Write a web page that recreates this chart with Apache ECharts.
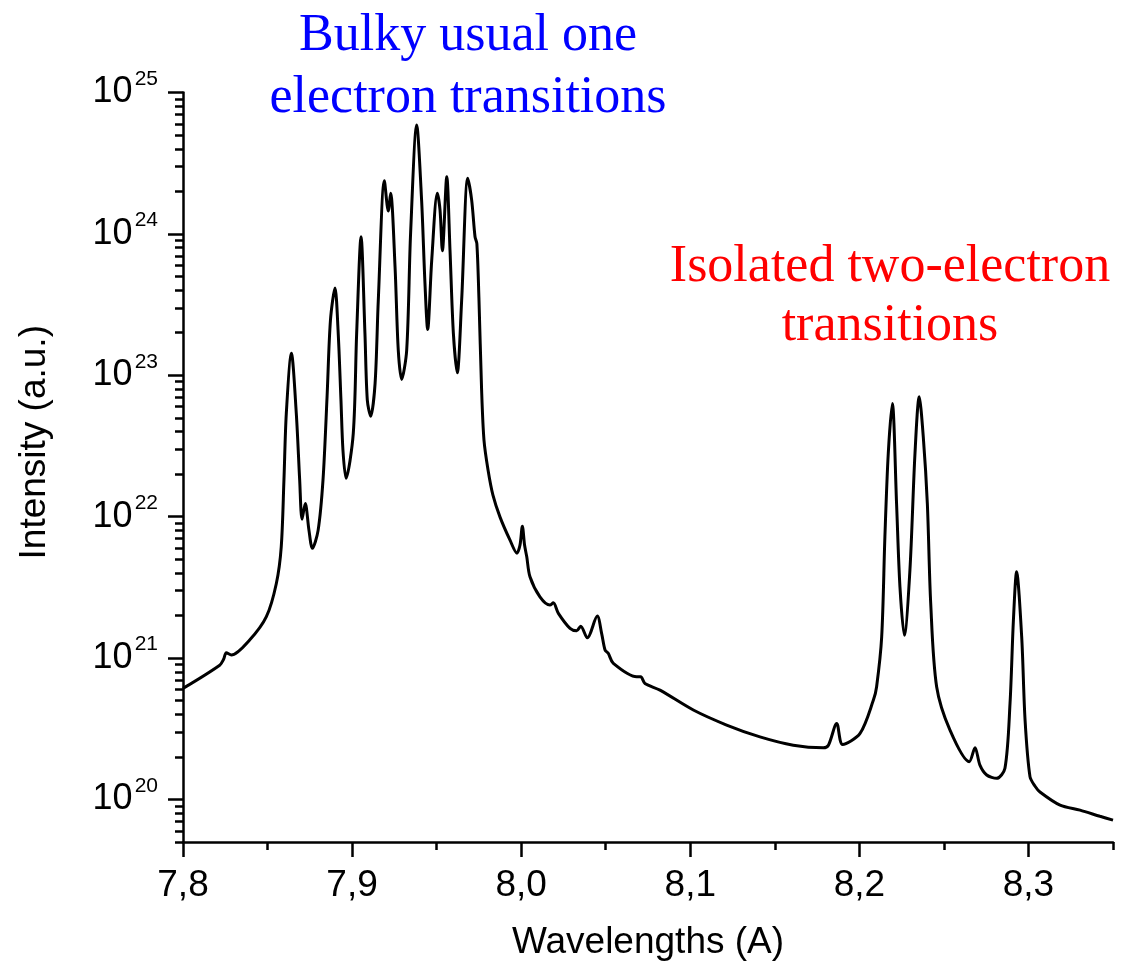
<!DOCTYPE html>
<html><head><meta charset="utf-8">
<script src="https://cdn.jsdelivr.net/npm/echarts@6/dist/echarts.min.js"></script>
<style>html,body{margin:0;padding:0;background:#fff}#c{width:1121px;height:971px}</style>
</head><body><div id="c"></div>
<script>
const wavelengths = [
  7.8000, 7.8217, 7.8240, 7.8256, 7.8286, 7.8394, 7.8493, 7.8552, 7.8581, 7.8597,
  7.8611, 7.8641, 7.8670, 7.8690, 7.8704, 7.8723, 7.8745, 7.8765, 7.8799, 7.8828,
  7.8852, 7.8872, 7.8899, 7.8917, 7.8934, 7.8946, 7.8964, 7.9007, 7.9027, 7.9053,
  7.9076, 7.9090, 7.9110, 7.9136, 7.9155, 7.9191, 7.9214, 7.9228, 7.9254, 7.9273,
  7.9293, 7.9323, 7.9346, 7.9382, 7.9411, 7.9431, 7.9447, 7.9471, 7.9504, 7.9520,
  7.9534, 7.9560, 7.9579, 7.9599, 7.9622, 7.9648, 7.9684, 7.9707, 7.9727, 7.9738,
  7.9750, 7.9766, 7.9780, 7.9804, 7.9833, 7.9875, 7.9934, 7.9975, 7.9993, 8.0007,
  8.0020, 8.0033, 8.0052, 8.0111, 8.0170, 8.0190, 8.0220, 8.0289, 8.0328, 8.0352,
  8.0391, 8.0450, 8.0476, 8.0496, 8.0515, 8.0545, 8.0683, 8.0707, 8.0732, 8.0821,
  8.1018, 8.1215, 8.1412, 8.1609, 8.1787, 8.1817, 8.1866, 8.1901, 8.2004, 8.2083,
  8.2102, 8.2132, 8.2151, 8.2171, 8.2195, 8.2220, 8.2240, 8.2266, 8.2299, 8.2329,
  8.2354, 8.2378, 8.2402, 8.2422, 8.2457, 8.2536, 8.2650, 8.2684, 8.2713, 8.2753,
  8.2812, 8.2861, 8.2891, 8.2911, 8.2930, 8.2960, 8.2980, 8.3009, 8.3039, 8.3068,
  8.3187, 8.3305, 8.3423, 8.3500
];
const intensities = [
  6.1e20, 8.9e20, 9.8e20, 1.09e21, 1.05e21, 1.34e21, 1.96e21, 3.37e21, 6.12e21, 1.82e22,
  5.38e22, 1.43e23, 5.38e22, 1.82e22, 9.6e21, 1.24e22, 8.0e21, 5.97e21, 8.0e21, 1.82e22,
  7.05e22, 2.45e23, 4.14e23, 2.09e23, 6.76e22, 2.95e22, 1.87e22, 3.88e22, 1.98e23, 9.55e23,
  1.98e23, 6.68e22, 5.14e22, 8.77e22, 3.40e23, 2.38e24, 1.45e24, 1.94e24, 5.86e23, 1.51e23,
  9.35e22, 1.51e23, 1.01e24, 5.89e24, 1.74e24, 4.47e23, 2.11e23, 6.53e23, 1.94e24, 1.48e24,
  7.60e23, 2.54e24, 7.69e23, 1.98e23, 1.04e23, 3.40e23, 2.47e24, 1.74e24, 9.55e23, 8.5e23,
  3.55e23, 7.85e22, 3.48e22, 2.14e22, 1.42e22, 9.93e21, 6.82e21, 5.52e21, 6.3e21, 8.57e21,
  6.3e21, 5.2e21, 3.76e21, 2.71e21, 2.37e21, 2.46e21, 2.07e21, 1.62e21, 1.56e21, 1.68e21,
  1.39e21, 1.98e21, 1.49e21, 1.14e21, 1.08e21, 9.16e20, 7.36e20, 7.36e20, 6.61e20, 5.93e20,
  4.29e20, 3.36e20, 2.77e20, 2.42e20, 2.32e20, 2.42e20, 3.45e20, 2.45e20, 2.93e20, 5.04e20,
  6.27e20, 1.41e21, 7.21e21, 2.81e22, 6.32e22, 1.24e22, 3.19e21, 1.45e21, 4.19e21, 2.81e22,
  7.05e22, 3.67e22, 1.24e22, 2.43e21, 6.27e20, 3.09e20, 1.85e20, 2.32e20, 1.75e20, 1.49e20,
  1.41e20, 1.66e20, 4.78e20, 1.85e21, 4.07e21, 1.41e21, 3.64e20, 1.45e20, 1.24e20, 1.13e20,
  9.12e19, 8.4e19, 7.6e19, 7.14e19
];
const xMajorTicks = [7.8, 7.9, 8.0, 8.1, 8.2, 8.3];
const xMinorTicks = [7.85, 7.95, 8.05, 8.15, 8.25, 8.35];
const yDecadeTicks = [1e20, 1e21, 1e22, 1e23, 1e24, 1e25];
const yMinorMultipliers = [2, 3, 4, 5, 6, 7, 8, 9];
const xRange = [7.8, 8.35];
const yRange = [5e19, 1e25];
const xTitle = 'Wavelengths (A)';
const yTitle = 'Intensity (a.u.)';
const noteBlue = ['Bulky usual one', 'electron transitions'];
const noteRed = ['Isolated two-electron', 'transitions'];

const yMinorTicks = [];
[1e19, 1e20, 1e21, 1e22, 1e23, 1e24].forEach(d => {
  yMinorMultipliers.forEach(k => {
    const v = k * d;
    if (v >= yRange[0] * 0.999 && v <= yRange[1]) yMinorTicks.push(v);
  });
});

const FONT = 'Liberation Sans, Arial, sans-serif';
const SERIF = 'Liberation Serif, Times New Roman, serif';
const AX = { color: '#000', width: 2.5 };

const chart = echarts.init(document.getElementById('c'), null, { renderer: 'canvas' });
chart.setOption({
  animation: false,
  backgroundColor: '#fff',
  grid: { left: 183, right: 8, top: 92.5, bottom: 129, containLabel: false },
  xAxis: [{
    type: 'value', min: xRange[0], max: xRange[1], position: 'bottom',
    axisLine: { onZero: false, lineStyle: AX },
    axisTick: { customValues: xMajorTicks, length: 15, lineStyle: AX },
    axisLabel: {
      customValues: xMajorTicks, margin: 25, color: '#000', fontSize: 37, fontFamily: FONT,
      formatter: v => v.toFixed(1).replace('.', ',')
    },
    splitLine: { show: false },
    name: xTitle, nameLocation: 'middle', nameGap: 82,
    nameTextStyle: { color: '#000', fontSize: 37, fontFamily: FONT }
  }, {
    type: 'value', min: xRange[0], max: xRange[1], position: 'bottom',
    axisLine: { show: false, onZero: false },
    axisTick: { customValues: xMinorTicks, length: 8, lineStyle: AX },
    axisLabel: { show: false },
    splitLine: { show: false }
  }],
  yAxis: [{
    type: 'log', logBase: 10, min: yRange[0], max: yRange[1], position: 'left',
    axisLine: { onZero: false, lineStyle: AX },
    axisTick: { customValues: yDecadeTicks, length: 15, lineStyle: AX },
    axisLabel: {
      customValues: yDecadeTicks, margin: 25, color: '#000', fontFamily: FONT,
      formatter: v => '{b|10}{s|' + Math.round(Math.log10(v)) + '}',
      rich: {
        b: { fontSize: 36, lineHeight: 48, fontFamily: FONT, color: '#000' },
        s: { fontSize: 21, lineHeight: 21, verticalAlign: 'top', fontFamily: FONT, color: '#000', padding: [0, 0, 0, 2] }
      }
    },
    splitLine: { show: false },
    name: yTitle, nameLocation: 'middle', nameGap: 130,
    nameTextStyle: { color: '#000', fontSize: 37, fontFamily: FONT, padding: [0, 0, 0, 50] }
  }, {
    type: 'log', logBase: 10, min: yRange[0], max: yRange[1], position: 'left',
    axisLine: { show: false, onZero: false },
    axisTick: { customValues: yMinorTicks, length: 8, lineStyle: AX },
    axisLabel: { show: false },
    splitLine: { show: false }
  }],
  series: [{
    type: 'line', xAxisIndex: 0, yAxisIndex: 0,
    data: wavelengths.map((w, i) => [w, intensities[i]]),
    showSymbol: false, smooth: 0.3,
    lineStyle: { color: '#000', width: 3 },
    z: 5
  }],
  graphic: [{
    type: 'text', x: 468, y: 67,
    style: { text: noteBlue.join('\n'), fill: '#0000ff', font: '52px ' + SERIF, align: 'center', verticalAlign: 'middle', lineHeight: 62 }
  }, {
    type: 'text', x: 890, y: 297,
    style: { text: noteRed.join('\n'), fill: '#ff0000', font: '52px ' + SERIF, align: 'center', verticalAlign: 'middle', lineHeight: 59 }
  }]
});
</script></body></html>
